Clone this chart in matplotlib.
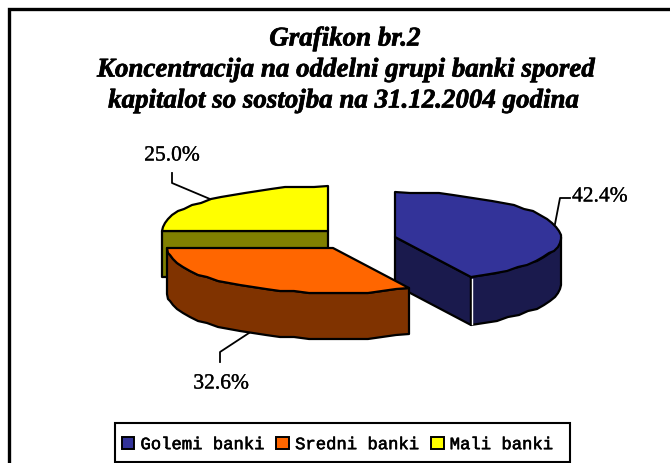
import numpy as np
import matplotlib
matplotlib.use("Agg")
import matplotlib.pyplot as plt
import matplotlib.patheffects as pe
from matplotlib.patches import Patch, Polygon, Rectangle

# ── Data ─────────────────────────────────────────────────────────────────────

categories = ["Golemi banki", "Sredni banki", "Mali banki"]
shares     = [42.4, 32.6, 25.0]
labels     = ["42.4%", "32.6%", "25.0%"]

title_lines = [
    "Grafikon br.2",
    "Koncentracija na oddelni grupi banki spored",
    "kapitalot so sostojba na 31.12.2004 godina",
]

# ── Style ────────────────────────────────────────────────────────────────────

top_colors  = ["#333399", "#FF6600", "#FFFF00"]
side_colors = ["#1A1A4D", "#803300", "#808000"]

# exploded slice centres on the picture, x radius, y radius, depth
centers = [(395, 238), (333, 249), (328, 232)]
RX, RY  = 166, 45
DEPTH   = [48, 46, 46]
LW      = 1.6
STEP    = 5          # degrees per edge segment
GRID    = 2          # snap y to this many pixels, gives the rough outline

# ── Geometry ─────────────────────────────────────────────────────────────────

def arc(center, start, stop):
    # angles run clockwise from 12 o'clock, as in the original chart
    n   = max(int(abs(stop - start) / STEP), 2) + 1
    ang = np.radians(np.linspace(start, stop, n))
    x   = center[0] + RX * np.sin(ang)
    y   = center[1] - RY * np.cos(ang)
    y[1:-1] = np.round(y[1:-1] / GRID) * GRID
    return np.column_stack([np.round(x), np.round(y)])


def poly(ax, pts, color, z):
    ax.add_patch(Polygon(pts, closed=True, facecolor=color, edgecolor="black",
                         linewidth=LW, joinstyle="round", zorder=z))


def heavy(width):
    return [pe.withStroke(linewidth=width, foreground="black")]


fig = plt.figure(figsize=(6.7, 4.64), dpi=100)
ax  = fig.add_axes([0, 0, 1, 1])
ax.set_xlim(0, 670)
ax.set_ylim(464, 0)
ax.axis("off")

# outer frame runs off the right and bottom of the picture
ax.plot([9, 9, 670], [464, 10, 10], color="black", lw=2.4, zorder=1,
        solid_joinstyle="miter")

# ── Slices ───────────────────────────────────────────────────────────────────

edges = np.concatenate([[0], np.cumsum(shares)]) * 360 / sum(shares)

for i in [2, 0, 1]:      # back slice first, orange overlaps the blue one
    c, d = centers[i], DEPTH[i]
    start, stop = edges[i], edges[i + 1]
    z = 3 + [2, 0, 1].index(i) * 2
    shift = np.array([0, d])
    top = arc(c, start, stop)

    # cut faces that can be seen from the front
    if i == 0:
        apex = top[-1]
        poly(ax, [c, apex, apex + shift, np.array(c) + shift], side_colors[i], z)
    if i == 2:
        left = top[0]
        poly(ax, [left, c, np.array(c) + shift, left + shift], side_colors[i], z)

    # outer wall, only the part facing down
    low = max(start, 90)
    high = min(stop, 270)
    if high > low:
        wall = arc(c, low, high)
        poly(ax, np.vstack([wall, (wall + shift)[::-1]]), side_colors[i], z)

    poly(ax, np.vstack([[c], top]), top_colors[i], z + 1)

    if i == 0:
        ax.plot([apex[0] + 1] * 2, [apex[1] + 2, apex[1] + d - 1],
                color="white", lw=1.0, zorder=z + 1)

# ── Labels and leader lines ──────────────────────────────────────────────────

serif = "Liberation Serif"
for text, x, y, ha in zip(labels, [572, 221, 172], [198, 385, 157],
                          ["left", "center", "center"]):
    ax.text(x, y, text, family=serif, fontsize=15.5, va="center", ha=ha,
            path_effects=heavy(0.2))

leader = dict(color="black", lw=1.3, zorder=10)
ax.plot([555, 560, 570], [225, 199, 199], **leader)
ax.plot([220, 220, 249], [363, 353, 334], **leader)
ax.plot([172, 172, 210], [174, 184, 200], **leader)

# ── Title ────────────────────────────────────────────────────────────────────

for line, x, y in zip(title_lines, [345, 346, 344], [40, 71, 102]):
    ax.text(x, y, line, family=serif, fontsize=19.4, fontweight="bold",
            fontstyle="italic", ha="center", va="center", path_effects=heavy(0.5))

# ── Legend ───────────────────────────────────────────────────────────────────

ax.add_patch(Rectangle((115, 424), 455, 39, facecolor="white", edgecolor="black",
                       linewidth=1.5, zorder=19))

handles = [Patch(facecolor=col, edgecolor="black", linewidth=1.4) for col in top_colors]
leg = ax.legend(handles, categories, ncol=3, loc="center",
                bbox_to_anchor=(337.5, 445.5), bbox_transform=ax.transData,
                prop={"family": "Liberation Mono", "size": 12.4},
                frameon=False, handlelength=0.75, handleheight=0.75,
                handletextpad=0.35, columnspacing=0.65, borderpad=0, borderaxespad=0)
leg.set_zorder(20)
for t in leg.get_texts():
    t.set_path_effects(heavy(0.4))

fig.savefig("out.png", dpi=100)
